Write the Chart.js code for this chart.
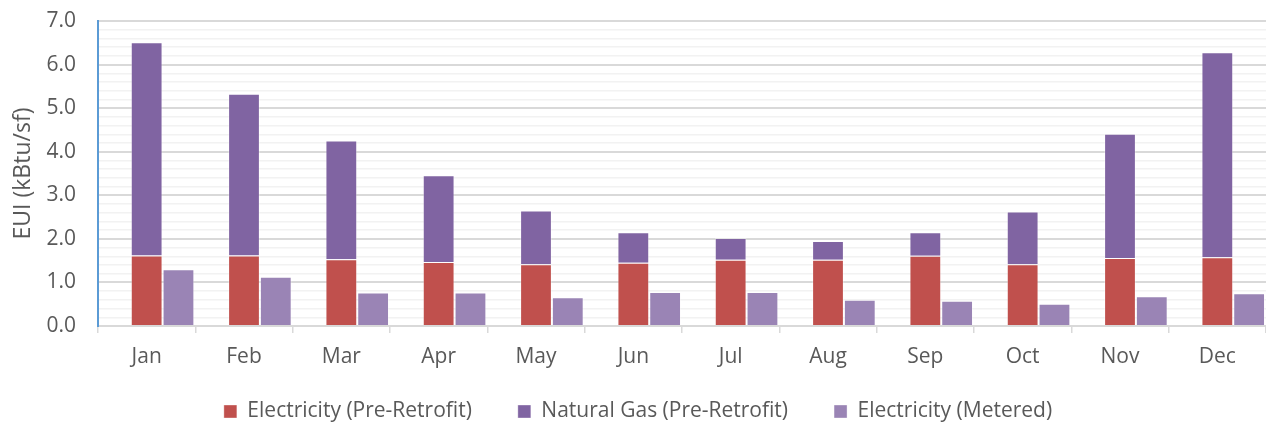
<!DOCTYPE html>
<html><head><meta charset="utf-8">
<script src="https://cdn.jsdelivr.net/npm/chart.js@4.4.1/dist/chart.umd.min.js"></script>
<style>html,body{margin:0;padding:0;background:#fff;} #wrap{width:1266px;height:423px;position:relative;}</style>
</head><body><div id="wrap"><canvas id="c" width="1266" height="423"></canvas></div>
<script>
const categories = ['Jan','Feb','Mar','Apr','May','Jun','Jul','Aug','Sep','Oct','Nov','Dec'];
const elecPre = [1.62,1.62,1.53,1.47,1.42,1.45,1.52,1.52,1.61,1.42,1.56,1.58];
const gasPre = [4.89,3.71,2.73,1.99,1.23,0.70,0.50,0.43,0.54,1.21,2.85,4.70];
const elecMetered = [1.30,1.13,0.77,0.77,0.66,0.78,0.78,0.60,0.58,0.51,0.68,0.75];
const yMin = 0, yMax = 7, yMinorStep = 0.2;
const seriesNames = ['Electricity (Pre-Retrofit)','Natural Gas (Pre-Retrofit)','Electricity (Metered)'];

Chart.defaults.font.family = "'Open Sans', sans-serif";
Chart.defaults.font.size = 21;
Chart.defaults.color = '#595959';
const isMajor = v => Math.abs(v - Math.round(v)) < 1e-6;
const edge = 'rgba(255,255,255,0.35)';

// let the category labels draw below the (deliberately short) x-axis box
const unclipXLabels = {
  id: 'unclipXLabels',
  afterLayout(chart) { chart.scales.x._computeLabelArea = () => undefined; }
};

new Chart(document.getElementById('c'), {
  type: 'bar',
  data: {
    labels: categories,
    datasets: [
      {label: '_spacer', data: categories.map(() => null), stack: 'a', backgroundColor: 'rgba(0,0,0,0)'},
      {label: seriesNames[0], data: elecPre, stack: 'b', backgroundColor: '#C0504D', borderColor: edge, borderWidth: 1},
      {label: seriesNames[1], data: gasPre, stack: 'b', backgroundColor: '#8064A2', borderColor: edge, borderWidth: 1},
      {label: seriesNames[2], data: elecMetered, stack: 'c', backgroundColor: '#9A84B5', borderColor: edge, borderWidth: 1}
    ]
  },
  plugins: [unclipXLabels],
  options: {
    responsive: false,
    animation: false,
    datasets: {bar: {categoryPercentage: 0.98, barPercentage: 1}},
    layout: {padding: {top: 21, left: 10, right: 0, bottom: -9}},
    plugins: {
      legend: {position: 'bottom', labels: {boxWidth: 13, boxHeight: 13, padding: 46, color: '#595959',
        filter: item => item.text !== '_spacer'}},
      tooltip: {enabled: false}
    },
    scales: {
      x: {
        stacked: true,
        grid: {drawOnChartArea: false, tickLength: 7, color: '#D9D9D9', lineWidth: 1.5},
        border: {color: '#D9D9D9', width: 2},
        ticks: {padding: 11},
        afterFit: s => { s.height = 29; }
      },
      y: {
        stacked: true, min: yMin, max: yMax,
        ticks: {stepSize: yMinorStep, autoSkip: false, padding: 0,
          callback: v => isMajor(v) ? Number(v).toFixed(1) : ''},
        grid: {drawTicks: true, tickLength: 22, tickColor: 'rgba(0,0,0,0)',
          color: ctx => isMajor(ctx.tick.value) ? '#D9D9D9' : '#F2F2F2',
          lineWidth: ctx => isMajor(ctx.tick.value) ? 2 : 1.5},
        border: {color: '#5B9BD5', width: 2},
        title: {display: true, text: 'EUI (kBtu/sf)', padding: 0, color: '#595959', font: {size: 23}},
        afterFit: s => { s.width = 88; }
      }
    }
  }
});
</script></body></html>
